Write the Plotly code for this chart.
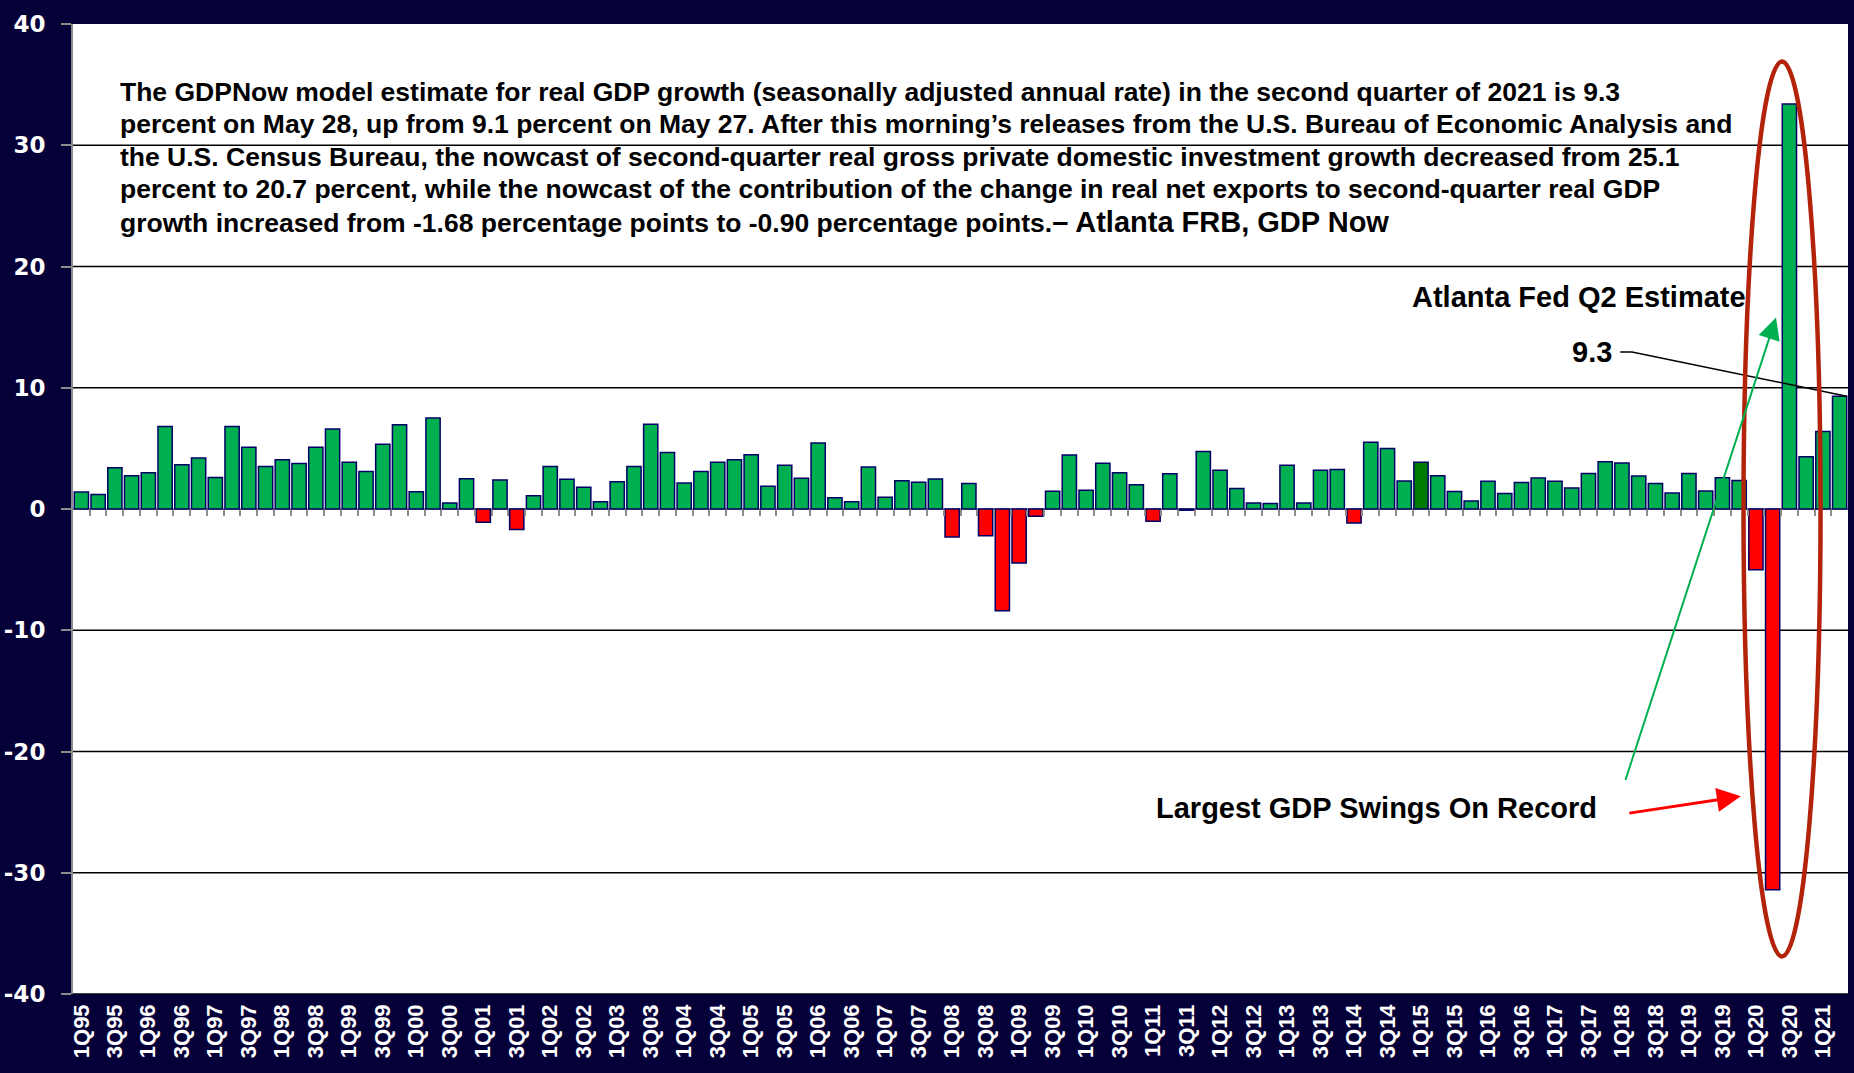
import plotly.graph_objects as go

# ---------------- data ----------------
quarters = [f"{q}Q{str(y)[2:]}" for y in range(1995, 2022) for q in range(1, 5)][:106]

gdp = [
    1.4, 1.2, 3.4, 2.75,      # 1995
    3.0, 6.8, 3.65, 4.2,      # 1996
    2.6, 6.8, 5.1, 3.5,       # 1997
    4.07, 3.76, 5.1, 6.6,     # 1998
    3.85, 3.1, 5.33, 6.95,    # 1999
    1.43, 7.5, 0.5, 2.5,      # 2000
    -1.1, 2.4, -1.7, 1.1,     # 2001
    3.5, 2.45, 1.8, 0.6,      # 2002
    2.25, 3.5, 7.0, 4.67,     # 2003
    2.14, 3.1, 3.85, 4.07,    # 2004
    4.48, 1.87, 3.6, 2.53,    # 2005
    5.44, 0.93, 0.6, 3.46,    # 2006
    0.96, 2.33, 2.2, 2.47,    # 2007
    -2.3, 2.1, -2.2, -8.4,    # 2008
    -4.45, -0.6, 1.46, 4.45,  # 2009
    1.54, 3.77, 3.0, 2.0,     # 2010
    -1.0, 2.9, -0.1, 4.75,    # 2011
    3.2, 1.7, 0.5, 0.45,      # 2012
    3.6, 0.5, 3.2, 3.25,      # 2013
    -1.15, 5.5, 5.0, 2.3,     # 2014
    3.86, 2.75, 1.44, 0.67,   # 2015
    2.28, 1.28, 2.18, 2.55,   # 2016
    2.28, 1.74, 2.92, 3.89,   # 2017
    3.79, 2.72, 2.11, 1.31,   # 2018
    2.92, 1.48, 2.58, 2.35,   # 2019
    -5.0, -31.4, 33.4, 4.3,   # 2020
    6.4, 9.3,                 # 2021 (Q2 = Atlanta Fed estimate)
]

highlight_quarter = "1Q15"
tick_labels = [q for q in quarters if q.startswith(("1Q", "3Q"))]
y_ticks = [-40, -30, -20, -10, 0, 10, 20, 30, 40]
grid_values = [-40, -30, -20, -10, 10, 20, 30]

text_lines = [
    "The GDPNow model estimate for real GDP growth (seasonally adjusted annual rate) in the second quarter of 2021 is 9.3",
    "percent on May 28, up from 9.1 percent on May 27. After this morning\u2019s releases from the U.S. Bureau of Economic Analysis and",
    "the U.S. Census Bureau, the nowcast of second-quarter real gross private domestic investment growth decreased from 25.1",
    "percent to 20.7 percent, while the nowcast of the contribution of the change in real net exports to second-quarter real GDP",
    "growth increased from -1.68 percentage points to -0.90 percentage points.<span style='font-size:29px'>\u2013 Atlanta FRB, GDP Now</span>",
]

# ---------------- styling ----------------
NAVY = "#060038"
GREEN = "#00B050"
DARK_GREEN = "#007A00"
RED = "#FF0000"
GRAY = "#8C8C8C"
FONT = "Liberation Sans, Arial, sans-serif"

xs = list(range(len(quarters)))
colors = []
for q, v in zip(quarters, gdp):
    if v < 0:
        colors.append(RED)
    elif q == highlight_quarter:
        colors.append(DARK_GREEN)
    else:
        colors.append(GREEN)

tickvals = [i for i, q in enumerate(quarters) if q in tick_labels]
boundaries = [i + 0.5 for i in range(len(quarters) - 1)]

fig = go.Figure()
fig.add_trace(go.Bar(
    x=xs, y=gdp,
    marker=dict(color=colors, line=dict(color="#000066", width=1.5)),
    hoverinfo="skip", showlegend=False,
))
# invisible trace registering the zero-line tick axis
fig.add_trace(go.Scatter(
    x=[boundaries[0]], y=[0], xaxis="x2", mode="markers",
    marker=dict(opacity=0), hoverinfo="skip", showlegend=False,
))

xr = [-0.5, len(quarters) - 0.5]

fig.update_layout(
    width=1854, height=1073,
    margin=dict(l=73, r=6, t=24, b=79),
    paper_bgcolor=NAVY, plot_bgcolor="white",
    bargap=0.15,
    font=dict(family=FONT, color="black"),
    xaxis=dict(
        range=xr, tickmode="array", tickvals=tickvals, ticktext=tick_labels,
        tickangle=-90, ticks="", showline=False, showgrid=False, zeroline=False,
        ticklabelstandoff=5, automargin=False,
        tickfont=dict(family=FONT, size=22, color="white", weight="bold"),
    ),
    xaxis2=dict(
        range=xr, overlaying="x", anchor="free", position=0.5, side="bottom",
        tickmode="array", tickvals=boundaries, ticks="outside", ticklen=6,
        tickwidth=2, tickcolor=GRAY, showticklabels=False, showline=False,
        showgrid=False, zeroline=False, automargin=False,
    ),
    yaxis=dict(
        range=[-40, 40], tickmode="array", tickvals=y_ticks,
        ticktext=[str(v) for v in y_ticks],
        showgrid=False, zeroline=True, zerolinecolor=GRAY, zerolinewidth=2,
        showline=True, linecolor=GRAY, linewidth=2,
        ticks="outside", ticklen=10, tickwidth=2, tickcolor=GRAY,
        ticklabelstandoff=11, automargin=False,
        tickfont=dict(family="DejaVu Sans, sans-serif", size=23, color="white", weight="bold"),
    ),
)

shapes = []
for g in grid_values:
    shapes.append(dict(type="line", xref="paper", yref="y", x0=0, x1=1, y0=g, y1=g,
                       line=dict(color="black", width=1.5), layer="below"))

# leader line from "9.3" label to the estimate bar
last_i = len(gdp) - 1
shapes.append(dict(
    type="path", xref="x", yref="y",
    path=f"M 91.9,12.95 L 92.6,12.95 L {last_i + 0.42},{gdp[-1]}",
    line=dict(color="black", width=1.5),
))
# red ellipse around the 2020 swings
shapes.append(dict(type="circle", xref="x", yref="y", x0=99.26, x1=103.86,
                   y0=-36.9, y1=36.9, line=dict(color="#B2230A", width=4.5), layer="above"))
fig.update_layout(shapes=shapes)


def px_x(p):
    return (p - 73) / 1775


def px_y(p):
    return (994 - p) / 970


annotations = []
line_centers = [92, 124.5, 157, 189.5, 222]
for t, yc in zip(text_lines, line_centers):
    annotations.append(dict(
        text=f"<b>{t}</b>", xref="paper", yref="paper", x=px_x(118), y=px_y(yc),
        xanchor="left", yanchor="middle", showarrow=False,
        font=dict(family=FONT, size=26.5, color="black"), align="left",
    ))

annotations += [
    dict(text="<b>Atlanta Fed Q2 Estimate</b>", xref="paper", yref="paper",
         x=px_x(1748), y=px_y(297), xanchor="right", yanchor="middle", showarrow=False,
         font=dict(family=FONT, size=29, color="black")),
    dict(text="<b>9.3</b>", xref="paper", yref="paper",
         x=px_x(1614), y=px_y(352), xanchor="right", yanchor="middle", showarrow=False,
         font=dict(family=FONT, size=29, color="black")),
    dict(text="<b>Largest GDP Swings On Record</b>", xref="paper", yref="paper",
         x=px_x(1376), y=px_y(808), xanchor="center", yanchor="middle", showarrow=False,
         font=dict(family=FONT, size=29, color="black")),
    # green arrow
    dict(text="", x=101.2, y=15.8, xref="x", yref="y", ax=-151, ay=464,
         showarrow=True, arrowhead=2, arrowsize=2.2, arrowwidth=2, arrowcolor=GREEN,
         standoff=0),
    # red arrow
    dict(text="", x=99.1, y=-23.7, xref="x", yref="y", ax=-113, ay=17,
         showarrow=True, arrowhead=2, arrowsize=1.6, arrowwidth=3, arrowcolor=RED,
         standoff=0),
]
fig.update_layout(annotations=annotations)

fig.write_html("out.html", config={"displayModeBar": False},
               post_script="document.body.style.margin='0';")
